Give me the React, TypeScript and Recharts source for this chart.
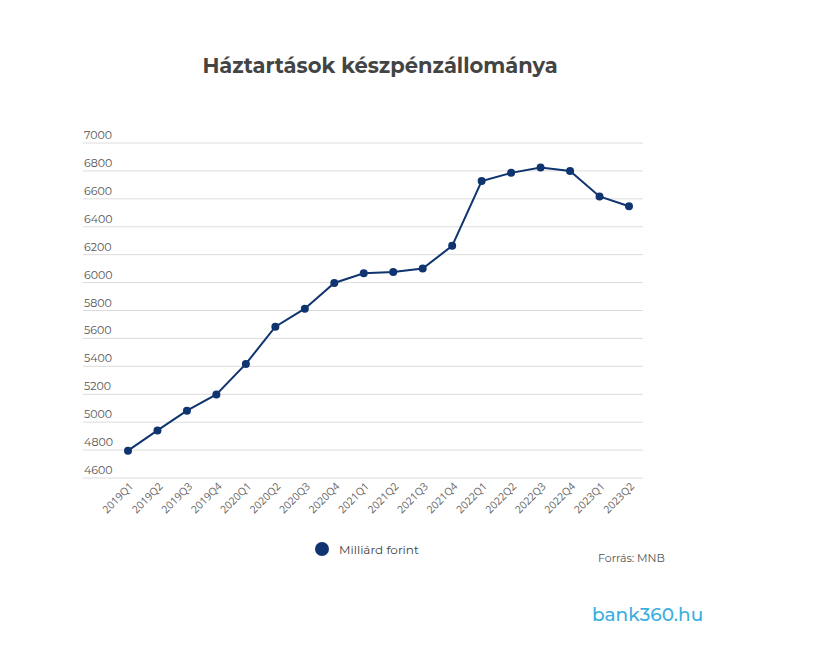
import React from "react"
import { CartesianGrid, Legend, Line, LineChart, XAxis, YAxis } from "recharts"

const quarters = [
  "2019Q1", "2019Q2", "2019Q3", "2019Q4",
  "2020Q1", "2020Q2", "2020Q3", "2020Q4",
  "2021Q1", "2021Q2", "2021Q3", "2021Q4",
  "2022Q1", "2022Q2", "2022Q3", "2022Q4",
  "2023Q1", "2023Q2",
]
const cash = [
  4796, 4941, 5082, 5199,
  5417, 5684, 5813, 5997,
  6067, 6075, 6101, 6263,
  6728, 6786, 6824, 6800,
  6617, 6547,
]
const yTicks = [4600, 4800, 5000, 5200, 5400, 5600, 5800, 6000, 6200, 6400, 6600, 6800, 7000]

const data = quarters.map((q, i) => ({ q, cash: cash[i] }))

const navy = "#0f3470"
const font = "Montserrat, 'Open Sans', sans-serif"

function YTick({ y, payload }: any) {
  return (
    <text x={84} y={y - 4} textAnchor="start" fontSize={11} fill="#555" fontFamily={font}>
      {payload.value}
    </text>
  )
}

function XTick({ x, y, payload }: any) {
  const ax = x + 6
  const ay = y + 1
  return (
    <text
      x={ax}
      y={ay}
      textAnchor="end"
      fontSize={10.5}
      fill="#666"
      fontFamily="'Open Sans', sans-serif"
      transform={`rotate(-45, ${ax}, ${ay})`}
    >
      {payload.value}
    </text>
  )
}

function LegendBox() {
  return (
    <div style={{ display: "flex", alignItems: "center", fontFamily: font, fontSize: 12, color: "#444" }}>
      <svg width={16} height={16} style={{ marginRight: 9 }}>
        <circle cx={8} cy={8} r={7} fill={navy} />
      </svg>
      Milliárd forint
    </div>
  )
}

export default function App() {
  return (
    <div style={{ position: "absolute", left: 0, top: 0, width: 821, height: 656, background: "#fff" }}>
      <div
        style={{
          position: "absolute", left: 0, width: 760, top: 53, textAlign: "center",
          fontFamily: font, fontWeight: 700, fontSize: 21, color: "#444",
        }}
      >
        Háztartások készpénzállománya
      </div>
      <LineChart
        width={821}
        height={656}
        data={data}
        margin={{ top: 143, right: 178, left: 82, bottom: 122 }}
      >
        <CartesianGrid horizontal vertical={false} stroke="#dcdcdc" />
        <XAxis
          dataKey="q"
          axisLine={false}
          tickLine={false}
          interval={0}
          padding={{ left: 45, right: 14 }}
          tick={<XTick />}
          height={40}
        />
        <YAxis
          width={1}
          domain={[4600, 7000]}
          ticks={yTicks}
          axisLine={false}
          tickLine={false}
          tick={<YTick />}
          interval={0}
        />
        <Legend
          content={<LegendBox />}
          wrapperStyle={{ position: "absolute", left: 314, top: 541, width: 160 }}
        />
        <Line
          type="linear"
          dataKey="cash"
          name="Milliárd forint"
          stroke={navy}
          strokeWidth={2}
          dot={{ r: 4, fill: navy, stroke: navy, strokeWidth: 0 }}
          isAnimationActive={false}
        />
      </LineChart>
      <div style={{ position: "absolute", left: 598, top: 551, fontFamily: font, fontSize: 11, color: "#555" }}>
        Forrás: MNB
      </div>
      <div style={{ position: "absolute", left: 592, top: 603, fontFamily: font, fontSize: 18.5, fontWeight: 500, color: "#3aaee0" }}>
        bank360.hu
      </div>
    </div>
  )
}
